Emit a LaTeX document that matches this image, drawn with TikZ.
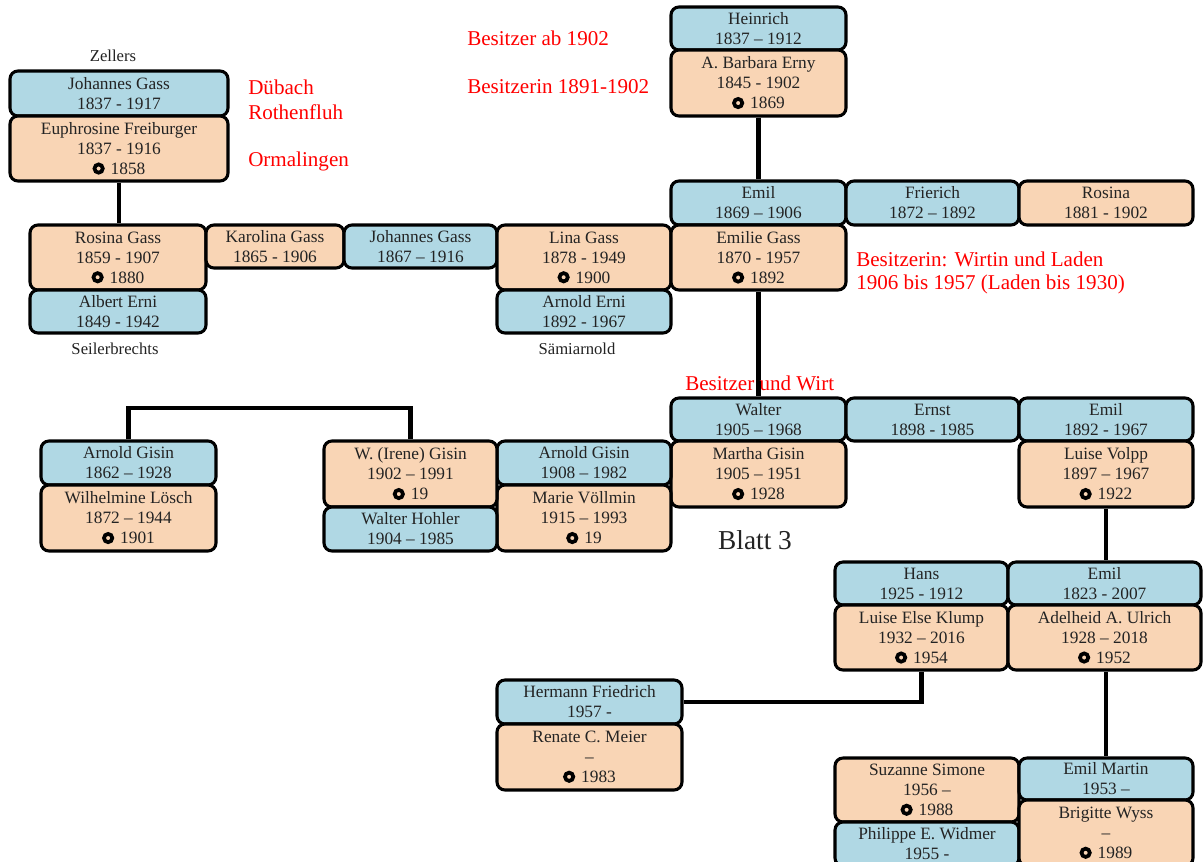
\documentclass[tikz,border=0pt]{standalone}
\usepackage{fontspec}
\setmainfont{Liberation Serif}
\definecolor{mblue}{RGB}{176,216,228}
\definecolor{fpeach}{RGB}{249,213,181}
\definecolor{txt}{RGB}{35,35,35}
\newcommand\marr{\tikz[baseline=0pt]\draw[line width=2.8pt,draw=black,fill=none] (0pt,0.34em) circle (3.1pt);\hspace{0.1em}}
\begin{document}
\begin{tikzpicture}[x=0.75pt,y=-0.75pt,
  bx/.style={draw=black, line width=2.3pt, rounded corners=6pt, align=center, inner sep=0pt,
             text=txt, font=\fontsize{13}{15}\selectfont},
  sz/.style 2 args={minimum width={(#1)*0.75pt}, minimum height={(#2)*0.75pt}},
  bluebox/.style={bx, fill=mblue},
  peachbox/.style={bx, fill=fpeach},
  link/.style={draw=black, line width=3.4pt},
  redtxt/.style={text=red, font=\fontsize{15.8}{18}\selectfont, anchor=west, inner sep=0pt},
  place/.style={text=txt, font=\fontsize{12.5}{14}\selectfont, inner sep=0pt}]
\useasboundingbox (0,0) rectangle (1203,861);
\fill[white] (0,0) rectangle (1203,861);

% connector corners
\coordinate (aglink) at (128.5,408);
\coordinate (irlink) at (410.5,408);

% top left family
\node[bluebox, sz={218}{45}] (jg1) at (119,93.5) {Johannes Gass\\1837 - 1917};
\node[peachbox, sz={218}{65}] (eu) at (119,148.5) {Euphrosine Freiburger\\1837 - 1916\\\marr\ 1858};
\node[place] (zel) at (113,56) {Zellers};

% top centre family
\node[bluebox, sz={175}{43}] (hei) at (758.5,28.5) {Heinrich\\1837 – 1912};
\node[peachbox, sz={175}{66}] (abe) at (758.5,83) {A. Barbara Erny\\1845 - 1902\\\marr\ 1869};

% row 2
\node[peachbox, sz={176}{65}] (rg) at (118,257.5) {Rosina Gass\\1859 - 1907\\\marr\ 1880};
\node[bluebox, sz={176}{43}] (ae) at (118,311.5) {Albert Erni\\1849 - 1942};
\node[place] (seil) at (115,349) {Seilerbrechts};
\node[peachbox, sz={138}{43}] (kg) at (275,246.5) {Karolina Gass\\1865 - 1906};
\node[bluebox, sz={153}{43}] (jg2) at (420.5,246.5) {Johannes Gass\\1867 – 1916};
\node[peachbox, sz={174}{65}] (lg) at (584,257.5) {Lina Gass\\1878 - 1949\\\marr\ 1900};
\node[bluebox, sz={174}{43}] (are) at (584,311.5) {Arnold Erni\\1892 - 1967};
\node[place] (sami) at (577,349) {Sämiarnold};
\node[bluebox, sz={175}{44}] (emil1) at (758.5,203) {Emil\\1869 – 1906};
\node[peachbox, sz={175}{65}] (emg) at (758.5,257.5) {Emilie Gass\\1870 - 1957\\\marr\ 1892};
\node[bluebox, sz={173}{44}] (fri) at (932.5,203) {Frierich\\1872 – 1892};
\node[peachbox, sz={174}{44}] (ros) at (1106,203) {Rosina\\1881 - 1902};

% row 3
\node[bluebox, sz={175}{43}] (wal) at (758.5,419.5) {Walter\\1905 – 1968};
\node[peachbox, sz={175}{66}] (mg) at (758.5,474) {Martha Gisin\\1905 – 1951\\\marr\ 1928};
\node[bluebox, sz={173}{43}] (ern) at (932.5,419.5) {Ernst\\1898 - 1985};
\node[bluebox, sz={174}{43}] (emil2) at (1106,419.5) {Emil\\1892 - 1967};
\node[peachbox, sz={174}{66}] (lv) at (1106,474) {Luise Volpp\\1897 – 1967\\\marr\ 1922};
\node[bluebox, sz={174}{44}] (agb) at (584,463) {Arnold Gisin\\1908 – 1982};
\node[peachbox, sz={174}{66}] (mv) at (584,518) {Marie Völlmin\\1915 – 1993\\\marr\ 19};
\node[peachbox, sz={173}{66}] (ir) at (410.5,474) {W. (Irene) Gisin\\1902 – 1991\\\marr\ 19};
\node[bluebox, sz={173}{44}] (wh) at (410.5,529) {Walter Hohler\\1904 – 1985};
\node[bluebox, sz={175}{44}] (aga) at (128.5,463) {Arnold Gisin\\1862 – 1928};
\node[peachbox, sz={175}{66}] (wl) at (128.5,518) {Wilhelmine  Lösch\\1872 – 1944\\\marr\ 1901};
\node[text=txt, font=\fontsize{20.5}{24}\selectfont, inner sep=0pt] (blatt) at (755,540) {Blatt 3};

% row 4
\node[bluebox, sz={173}{43}] (hans) at (921.5,583.5) {Hans\\1925 - 1912};
\node[peachbox, sz={173}{65}] (lek) at (921.5,637.5) {Luise Else Klump\\1932 – 2016\\\marr\ 1954};
\node[bluebox, sz={193}{43}] (emil3) at (1104.5,583.5) {Emil\\1823 - 2007};
\node[peachbox, sz={193}{65}] (adu) at (1104.5,637.5) {Adelheid A. Ulrich\\1928 – 2018\\\marr\ 1952};
\node[bluebox, sz={185}{44}] (hf) at (589.5,702) {Hermann Friedrich\\1957 -};
\node[peachbox, sz={185}{66}] (rcm) at (589.5,757) {Renate C. Meier\\–\\\marr\ 1983};
\node[peachbox, sz={184}{64}] (ss) at (927,790) {Suzanne Simone\\1956 –\\\marr\ 1988};
\node[bluebox, sz={184}{44}] (pew) at (927,844) {Philippe E. Widmer\\1955 -};
\node[bluebox, sz={174}{42}] (em) at (1106,779) {Emil Martin\\1953 –};
\node[peachbox, sz={174}{66}] (bw) at (1106,833) {Brigitte Wyss\\–\\\marr\ 1989};

% links
\draw[link] (eu.south) -- (eu.south |- rg.north);
\draw[link] (abe.south) -- (emil1.north);
\draw[link] (emg.south) -- (wal.north);
\draw[link] (aga.north) -- (aglink) -- (irlink) -- (ir.north);
\draw[link] (lv.south) -- (lv.south |- emil3.north);
\draw[link] (lek.south) |- (hf.east);
\draw[link] (adu.south -| em.north) -- (em.north);

% red annotations
\node[redtxt] (r1) at (248,87) {Dübach};
\node[redtxt] (r2) at (248,112) {Rothenfluh};
\node[redtxt] (r3) at (248,161) {Ormalingen};
\node[redtxt] (r4) at (467,38) {Besitzer ab 1902};
\node[redtxt] (r5) at (467,87) {Besitzerin 1891-1902};
\node[redtxt] (r6) at (856,259) {Besitzerin: Wirtin und Laden};
\node[redtxt] (r7) at (856,284) {1906 bis 1957 (Laden bis 1930)};
\node[redtxt] (r8) at (685,383) {Besitzer und Wirt};
\end{tikzpicture}
\end{document}
